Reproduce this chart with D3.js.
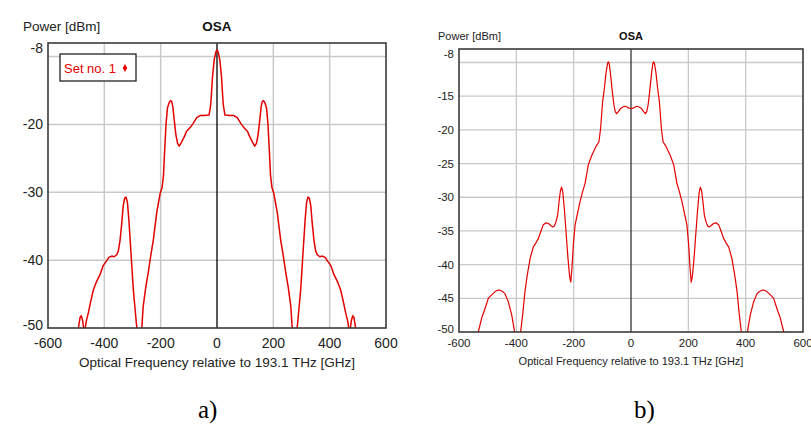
<!DOCTYPE html>
<html>
<head>
<meta charset="utf-8">
<script src="https://cdn.jsdelivr.net/npm/d3@7"></script>
<style>
  body { margin: 0; background: #fff; }
  svg { display: block; font-family: "Liberation Sans", Arial, sans-serif; }
</style>
</head>
<body>
<svg id="chart" width="811" height="428"></svg>
<script>
// Spectrum a) : frequency offset [GHz] and power [dBm]
const freqA = [-500,-492,-486,-482,-477,-472,-468,-463,-457,-448,-439,-428,-415,-404,-392,-384,-374,-365,-356,-350,-344,-338,-333,-328,-323,-318,-313,-306,-297,-288,-280,-272,-267,-262,-253,-244,-235,-226,-214,-202,-195,-190,-186,-181,-176,-170,-165,-161,-157,-152,-146,-140,-134,-126,-116,-108,-96,-84,-72,-60,-45,-28,-22,-16,-10,-4,0,
  4,10,16,22,28,45,60,72,84,96,108,116,126,134,140,146,152,157,161,165,170,176,181,186,190,195,202,214,226,235,244,253,262,267,272,280,288,297,306,313,318,323,328,333,338,344,350,356,365,374,384,392,404,415,428,439,448,457,463,468,472,477,482,486,492,500];
const powerA = [-53,-50,-48.4,-48.2,-48.9,-50.5,-50,-48.8,-47.8,-46,-44.4,-43.2,-42.1,-40.8,-40.1,-39.6,-39.4,-39.5,-39.2,-38.6,-37,-34.5,-32,-30.9,-30.7,-31.5,-34,-38.5,-44.4,-48.5,-52,-54,-50,-46.8,-44,-41.8,-39.3,-37,-33,-30.2,-29.3,-27.5,-24,-20,-17.6,-16.8,-16.5,-16.6,-17.3,-19.3,-21.5,-22.8,-23.2,-22.6,-21.8,-21,-20.5,-19.8,-19,-18.7,-18.7,-18.6,-17,-13,-10.5,-9.3,-9.0,
  -9.3,-10.5,-13,-17,-18.6,-18.7,-18.7,-19,-19.8,-20.5,-21,-21.8,-22.6,-23.2,-22.8,-21.5,-19.3,-17.3,-16.6,-16.5,-16.8,-17.6,-20,-24,-27.5,-29.3,-30.2,-33,-37,-39.3,-41.8,-44,-46.8,-50,-54,-52,-48.5,-44.4,-38.5,-34,-31.5,-30.7,-30.9,-32,-34.5,-37,-38.6,-39.2,-39.5,-39.4,-39.6,-40.1,-40.8,-42.1,-43.2,-44.4,-46,-47.8,-48.8,-50,-50.5,-48.9,-48.2,-48.4,-50,-53];

// Spectrum b)
const freqB = [-545,-533,-527,-520,-513,-505,-498,-486,-474,-465,-457,-448,-440,-434,-428,-422,-416,-408,-401,-395,-389,-385,-378,-370,-362,-352,-341,-332,-323,-314,-306,-296,-288,-280,-273,-268,-262,-256,-250,-246,-242,-238,-232,-226,-220,-214,-210,-206,-201,-195,-186,-178,-169,-160,-149,-137,-128,-120,-112,-106,-102,-99,-93,-87,-82,-79,-76,-72,-66,-60,-55,-50,-44,-36,-28,-21,-14,-7,0,
  7,14,21,28,36,44,50,55,60,66,72,76,79,82,87,93,99,102,106,112,120,128,137,149,160,169,178,186,195,201,206,210,214,220,226,232,238,242,246,250,256,262,268,273,280,288,296,306,314,323,332,341,352,362,370,378,385,389,395,401,408,416,422,428,434,440,448,457,465,474,486,498,505,513,520,527,533,545];
const powerB = [-53,-50,-49,-47.8,-47,-46,-45,-44.5,-44,-43.8,-43.8,-44,-44.3,-44.9,-45.5,-46.5,-47.5,-49.5,-51.5,-53,-52,-50,-47.5,-44,-41.6,-39.1,-37.4,-36.8,-36.1,-35,-34.1,-33.8,-33.9,-34.2,-34.4,-34.3,-33.7,-32.7,-30.3,-29,-28.5,-29.2,-32,-35.5,-39,-41.8,-42.6,-40.5,-37,-34.1,-32.3,-30.7,-29.2,-27.9,-25.2,-23.8,-23,-22.3,-21.8,-19.8,-17.5,-15.8,-13.9,-11.5,-10.2,-9.9,-10.2,-11.5,-14,-16.2,-17.3,-17.6,-17.3,-16.8,-16.6,-16.5,-16.6,-16.8,-16.8,
  -16.8,-16.6,-16.5,-16.6,-16.8,-17.3,-17.6,-17.3,-16.2,-14,-11.5,-10.2,-9.9,-10.2,-11.5,-13.9,-15.8,-17.5,-19.8,-21.8,-22.3,-23,-23.8,-25.2,-27.9,-29.2,-30.7,-32.3,-34.1,-37,-40.5,-42.6,-41.8,-39,-35.5,-32,-29.2,-28.5,-29,-30.3,-32.7,-33.7,-34.3,-34.4,-34.2,-33.9,-33.8,-34.1,-35,-36.1,-36.8,-37.4,-39.1,-41.6,-44,-47.5,-50,-52,-53,-51.5,-49.5,-47.5,-46.5,-45.5,-44.9,-44.3,-44,-43.8,-43.8,-44,-44.5,-45,-46,-47,-47.8,-49,-50,-53];

// Axis ticks
const xTicks = [-600, -400, -200, 0, 200, 400, 600];
const xGrid = [-400, -200, 200, 400];
const yTicksA = [-8, -20, -30, -40, -50];
const yGridA = [-10, -20, -30, -40];
const yTicksB = [-8, -15, -20, -25, -30, -35, -40, -45, -50];
const yGridB = [-10, -15, -20, -25, -30, -35, -40, -45];

const svg = d3.select('#chart');

function drawPanel(cfg) {
  const x = d3.scaleLinear().domain([-600, 600]).range([cfg.left, cfg.right]);
  const y = d3.scaleLinear().domain([-50, -8]).range([cfg.bottom, cfg.top]);
  const g = svg.append('g');

  // grid
  g.selectAll('.gx').data(xGrid).enter().append('line')
    .attr('x1', d => x(d)).attr('x2', d => x(d))
    .attr('y1', cfg.top).attr('y2', cfg.bottom)
    .attr('stroke', '#c9c9c9').attr('stroke-width', cfg.gridW);
  g.selectAll('.gy').data(cfg.yGrid).enter().append('line')
    .attr('x1', cfg.left).attr('x2', cfg.right)
    .attr('y1', d => y(d)).attr('y2', d => y(d))
    .attr('stroke', '#c9c9c9').attr('stroke-width', cfg.gridW);

  // zero line
  g.append('line')
    .attr('x1', x(0)).attr('x2', x(0))
    .attr('y1', cfg.top).attr('y2', cfg.bottom)
    .attr('stroke', cfg.zeroColor).attr('stroke-width', 1.3);

  // curve, clipped to the plot box
  const clipId = 'clip-' + cfg.id;
  svg.append('clipPath').attr('id', clipId).append('rect')
    .attr('x', cfg.left).attr('y', cfg.top)
    .attr('width', cfg.right - cfg.left).attr('height', cfg.bottom - cfg.top);
  const pts = cfg.freq.map((f, i) => [f, cfg.power[i]]);
  g.append('path')
    .datum(pts)
    .attr('clip-path', `url(#${clipId})`)
    .attr('fill', 'none')
    .attr('stroke', '#e30000')
    .attr('stroke-width', cfg.lineW)
    .attr('stroke-linejoin', 'round')
    .attr('d', d3.line().x(d => x(d[0])).y(d => y(d[1])));

  // frame
  g.append('rect')
    .attr('x', cfg.left).attr('y', cfg.top)
    .attr('width', cfg.right - cfg.left).attr('height', cfg.bottom - cfg.top)
    .attr('fill', 'none').attr('stroke', '#3a3a3a').attr('stroke-width', 1.6);

  // x tick labels
  g.selectAll('.tx').data(xTicks).enter().append('text')
    .attr('x', d => x(d))
    .attr('y', cfg.bottom + cfg.xLabelOff)
    .attr('text-anchor', 'middle')
    .attr('font-size', cfg.fs)
    .attr('fill', '#222')
    .text(d => d);

  // y tick labels (end labels nudged inside the frame like the OSA tool)
  g.selectAll('.ty').data(cfg.yTicks).enter().append('text')
    .attr('x', cfg.left - 5)
    .attr('y', d => y(d) + (d === -8 ? 5 : d === -50 ? -3 : 0))
    .attr('dy', '0.35em')
    .attr('text-anchor', 'end')
    .attr('font-size', cfg.fs)
    .attr('fill', '#222')
    .text(d => d);

  // titles
  g.append('text')
    .attr('x', cfg.yTitleX).attr('y', cfg.titleY)
    .attr('font-size', cfg.fs - 0.5).attr('fill', '#222')
    .text('Power [dBm]');
  g.append('text')
    .attr('x', (cfg.left + cfg.right) / 2).attr('y', cfg.titleY)
    .attr('text-anchor', 'middle')
    .attr('font-size', cfg.fs - 0.5).attr('font-weight', 'bold').attr('fill', '#111')
    .text('OSA');
  g.append('text')
    .attr('x', (cfg.left + cfg.right) / 2).attr('y', cfg.xTitleY)
    .attr('text-anchor', 'middle')
    .attr('font-size', cfg.fs - 0.5).attr('fill', '#222')
    .text('Optical Frequency relative to 193.1 THz [GHz]');

  // caption
  svg.append('text')
    .attr('x', cfg.captionX).attr('y', 418)
    .attr('font-family', '"Liberation Serif", "Times New Roman", serif')
    .attr('font-size', 25).attr('fill', '#000')
    .text(cfg.caption);

  return { x, y, g };
}

const pa = drawPanel({
  id: 'a', left: 48, right: 386, top: 43, bottom: 328,
  freq: freqA, power: powerA, yTicks: yTicksA, yGrid: yGridA,
  fs: 14, gridW: 1.5, lineW: 1.5, zeroColor: '#000',
  xLabelOff: 20, titleY: 31, yTitleX: 23, xTitleY: 367, captionX: 198, caption: 'a)'
});

drawPanel({
  id: 'b', left: 459, right: 803, top: 49, bottom: 332,
  freq: freqB, power: powerB, yTicks: yTicksB, yGrid: yGridB,
  fs: 11.5, gridW: 1.3, lineW: 1.2, zeroColor: '#333',
  xLabelOff: 15, titleY: 40, yTitleX: 438, xTitleY: 365, captionX: 634, caption: 'b)'
});

// legend of panel a
const lg = pa.g.append('g');
lg.append('rect')
  .attr('x', 60).attr('y', 54).attr('width', 76).attr('height', 27)
  .attr('fill', '#fff').attr('stroke', '#222').attr('stroke-width', 1.3);
lg.append('text')
  .attr('x', 64).attr('y', 72.5)
  .attr('font-size', 13).attr('fill', '#e30000')
  .text('Set no. 1');
lg.append('path')
  .attr('transform', 'translate(125,68)')
  .attr('d', d3.symbol(d3.symbolDiamond, 18)())
  .attr('fill', '#e30000');
</script>
</body>
</html>
